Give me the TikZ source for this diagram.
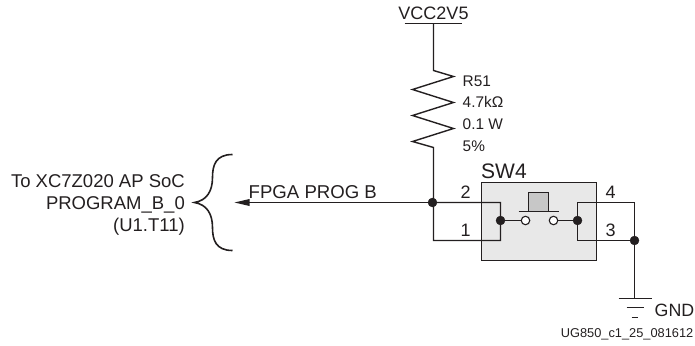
\documentclass[tikz,border=0pt]{standalone}
\usepackage{fontspec}
\setmainfont{Liberation Sans}
\definecolor{ink}{HTML}{231F20}
\newcommand{\fs}[1]{\fontsize{#1}{#1}\selectfont}
\tikzset{
  wire/.style={draw=ink,line width=1.4pt,line join=miter},
  lbl/.style={inner sep=0pt,text=ink},
  dotj/.style={circle,fill=ink,draw=ink,inner sep=0pt,minimum size=9pt},
  opencontact/.style={circle,fill=white,draw=ink,line width=1.1pt,inner sep=0pt,minimum size=8.5pt},
}
\begin{document}
\begin{tikzpicture}[x=1pt,y=-1pt]
\useasboundingbox (0,0) rectangle (695,345);
\begin{scope}[shift={(-0.5,-0.5)}]
% switch body
\node[draw=ink,fill=black!9,line width=1.1pt,minimum width=115pt,minimum height=78pt,inner sep=0pt] (body) at (539.5,222) {};
\node[draw=ink,fill=black!22,line width=1.1pt,minimum width=20pt,minimum height=19pt,inner sep=0pt] (plunger) at (539,202.5) {};
\coordinate (barL) at (519,212); \coordinate (barR) at (559,212);
\draw[wire] (barL) -- (barR);
% coordinates
\coordinate (vccL) at (405,24); \coordinate (vccR) at (462,24);
\coordinate (vcc) at (434,24);
\coordinate (rtop) at (434,71); \coordinate (rbot) at (434,148);
\coordinate (j1) at (434,241);
\coordinate (tip) at (235,203);
\coordinate (a2) at (501,203); \coordinate (a1) at (501,241);
\coordinate (b4) at (578,203); \coordinate (b3) at (578,241);
\coordinate (c4) at (635,203);
\coordinate (gnd) at (635,299);
% wires
\draw[wire] (vccL) -- (vccR);
\draw[wire] (vcc) -- (rtop) -- (454,77) -- (413,90) -- (454,103) -- (413,116) -- (454,129) -- (413,142) -- (rbot) -- (j1) -- (a1) -- (a2) -- (434,203);
\fill[ink] (tip) -- (250,199.5) -- (250,206.5) -- cycle;
\draw[wire] (434,203) -- (248,203);
\draw[wire] (c4) -- (b4) -- (b3) -- (635,241);
\draw[wire] (c4) -- (gnd);
% junctions & contacts
\node[dotj] (jp) at (433,203) {};
\node[dotj] (jl) at (501,221) {};
\node[dotj] (jr) at (578,221) {};
\node[dotj] (jg) at (635,241) {};
\node[opencontact] (cl) at (526,221) {};
\node[opencontact] (cr) at (554,221) {};
\draw[wire] (jl) -- (cl);
\draw[wire] (cr) -- (jr);
% ground
\draw[wire] (619,299) -- (652,299);
\draw[wire] (627,308) -- (644,308);
\draw[wire] (632,318) -- (638,318);
% brace
\draw[draw=ink,line width=1.6pt] (233,155) .. controls (216,155) and (213,166) .. (213,178)
  .. controls (213,192) and (207,201) .. (195,203)
  .. controls (207,205) and (213,214) .. (213,228)
  .. controls (213,240) and (216,251) .. (233,251);
% text
\node[lbl,font=\fs{18},anchor=base] (tvcc) at (434,20) {VCC2V5};
\node[lbl,font=\fs{15.4},anchor=base west] (r1) at (463,87) {R51};
\node[lbl,font=\fs{15.4},anchor=base west] (r2) at (463,108) {4.7kΩ};
\node[lbl,font=\fs{15.4},anchor=base west] (r3) at (463,130) {0.1 W};
\node[lbl,font=\fs{15.4},anchor=base west] (r4) at (463,152) {5\%};
\node[lbl,font=\fs{21},anchor=base west] (sw) at (481.5,179) {SW4};
\node[lbl,font=\fs{18},anchor=base] (p2) at (466,199) {2};
\node[lbl,font=\fs{18},anchor=base] (p1) at (466,237) {1};
\node[lbl,font=\fs{18},anchor=base] (p4) at (611,199) {4};
\node[lbl,font=\fs{18},anchor=base] (p3) at (611,237) {3};
\node[lbl,font=\fs{18.6},anchor=base west] (fp) at (249,199) {FPGA PROG B};
\node[lbl,font=\fs{18.5},anchor=base east] (l1) at (185.5,188) {To XC7Z020 AP SoC};
\node[lbl,font=\fs{18.5},anchor=base east] (l2) at (185.5,210) {PROGRAM\_B\_0};
\node[lbl,font=\fs{18.5},anchor=base east] (l3) at (185.5,232) {(U1.T11)};
\node[lbl,font=\fs{17.8},anchor=base west] (g) at (655,317) {GND};
\node[lbl,font=\fs{12.8},anchor=base east] (ug) at (694,338) {UG850\_c1\_25\_081612};
\end{scope}
\end{tikzpicture}
\end{document}
